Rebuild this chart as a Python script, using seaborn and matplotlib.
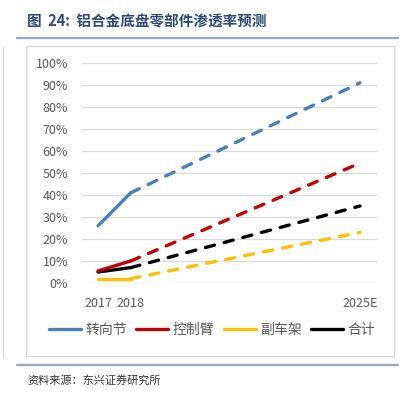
import matplotlib
matplotlib.use("Agg")
import matplotlib.pyplot as plt
import seaborn as sns
import pandas as pd
from matplotlib.lines import Line2D
from matplotlib.patches import Rectangle

# ---- data ----
series_names = ["转向节", "控制臂", "副车架", "合计"]
years = [2017, 2018, 2025]
tick_labels = ["2017", "2018", "2025E"]
v_knuckle = [0.26, 0.41, 0.91]
v_arm = [0.055, 0.10, 0.545]
v_subframe = [0.02, 0.02, 0.23]
v_total = [0.05, 0.07, 0.35]
colors = ["#4A7EBB", "#C00000", "#FFC000", "#000000"]

values = [v_knuckle, v_arm, v_subframe, v_total]

sns.set_theme(style="white")
plt.rcParams["font.family"] = ["Noto Sans CJK SC", "DejaVu Sans"]

W, H = 410, 396
fig = plt.figure(figsize=(W / 100, H / 100), dpi=100)

def fx(px):
    return px / W

def fy(py):
    return 1 - py / H

ax = fig.add_axes([fx(82), fy(283), fx(377) - fx(82), fy(63) - fy(283)])

rows_solid = []
rows_dash = []
for name, vals in zip(series_names, values):
    rows_solid += [{"year": years[0], "val": vals[0], "s": name},
                   {"year": years[1], "val": vals[1], "s": name}]
    rows_dash += [{"year": years[1], "val": vals[1], "s": name},
                  {"year": years[2], "val": vals[2], "s": name}]
df_solid = pd.DataFrame(rows_solid)
df_dash = pd.DataFrame(rows_dash)

pal = dict(zip(series_names, colors))
lw = 2.4
for name in series_names[::-1]:
    d = df_solid[df_solid.s == name]
    sns.lineplot(data=d, x="year", y="val", color=pal[name], lw=lw, ax=ax,
                 legend=False, solid_capstyle="round")
    d2 = df_dash[df_dash.s == name]
    sns.lineplot(data=d2, x="year", y="val", color=pal[name], lw=lw, ax=ax,
                 legend=False, linestyle="--")
for ln in ax.lines:
    if ln.get_linestyle() != "-":
        ln.set_dashes((2.8, 3.0))
        ln.set_dash_capstyle("round")

ax.set_xlim(2016.51, 2025.52)
ax.set_ylim(0, 1.0)
ax.set_yticks([i / 10 for i in range(11)])
ax.set_yticklabels([f"{i*10}%" for i in range(11)])
ax.set_xticks(years)
ax.set_xticklabels(tick_labels)
ax.set_xlabel("")
ax.set_ylabel("")
ax.grid(axis="y", color="#D9D9D9", lw=0.9)
ax.grid(axis="x", visible=False)
for sp in ax.spines.values():
    sp.set_visible(False)
ax.tick_params(axis="both", length=0, labelsize=9, colors="#595959")
ax.tick_params(axis="y", pad=10)
ax.tick_params(axis="x", pad=10)
for ln in ax.lines:
    ln.set_clip_on(False)

handles = [Line2D([0], [0], color=c, lw=lw, solid_capstyle="round") for c in colors]
leg = fig.legend(handles, series_names, loc="center", ncol=4,
                 bbox_to_anchor=(fx(212), fy(330)), frameon=False,
                 fontsize=10, handlelength=2.3, handletextpad=0.3,
                 columnspacing=0.7)
for t in leg.get_texts():
    t.set_color("#595959")

# frame and decorations
fig.patches.append(Rectangle((fx(26), fy(356)), fx(394) - fx(26), fy(46) - fy(356),
                             transform=fig.transFigure, fill=False,
                             edgecolor="#D9D9D9", lw=1.0))
fig.add_artist(Line2D([fx(3), fx(3)], [fy(47), fy(357)], color="#D9D9D9", lw=1.0))
fig.add_artist(Line2D([fx(17), fx(398)], [fy(38), fy(38)], color="#8EA9C1", lw=1.6))
fig.add_artist(Line2D([fx(17), fx(398)], [fy(365), fy(365)], color="#8EA9C1", lw=1.6))

fig.text(fx(27), fy(22), "图  24:  铝合金底盘零部件渗透率预测", fontsize=10.5,
         fontweight="bold", color="#2B4A7A", va="center", ha="left")
fig.text(fx(27), fy(380), "资料来源：东兴证券研究所", fontsize=8,
         style="italic", color="#333333", va="center", ha="left")

fig.savefig("out.png", dpi=100)
